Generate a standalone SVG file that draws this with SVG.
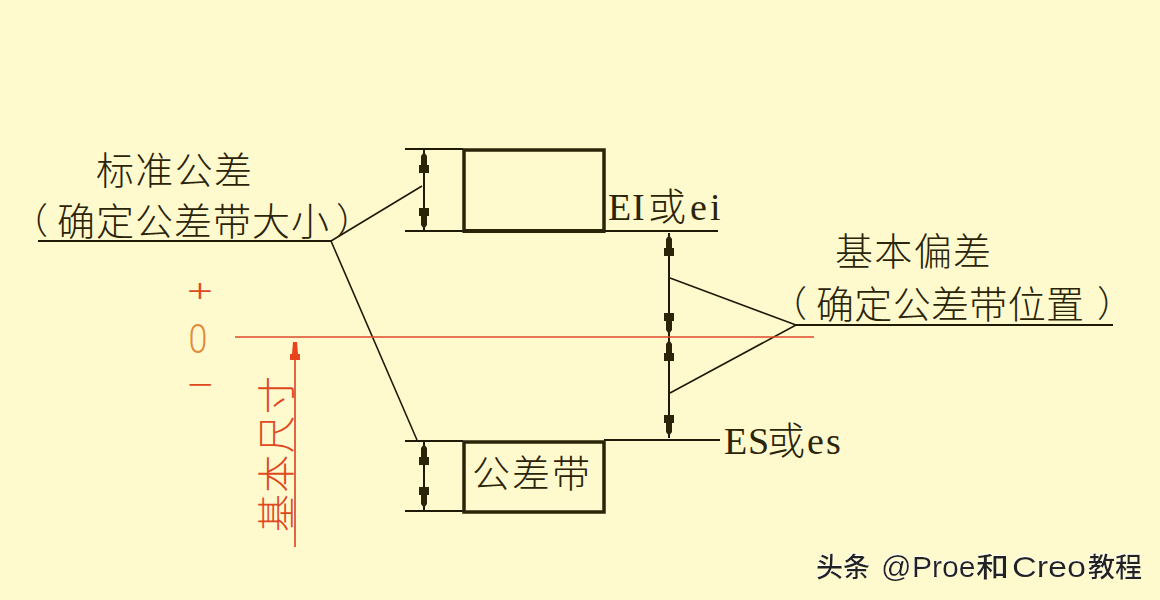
<svg xmlns="http://www.w3.org/2000/svg" width="1160" height="600" viewBox="0 0 1160 600">
<defs>
<style>
.l{stroke:#1f1a08;stroke-width:2;fill:none}
.t{stroke:#1f1a08;stroke-width:1.6;fill:none}
.r{stroke:#dc4a2a;stroke-width:1.7;fill:none}
.a{fill:#2a2408;stroke:none}
.box{fill:none;stroke:#2a2408;stroke-width:3.5}
text{font-family:"Noto Sans CJK SC","Liberation Serif",serif;fill:#2a2408;font-weight:300}
.s{font-family:"Liberation Serif","Noto Sans CJK SC",serif;font-weight:300}
.red{fill:#e0481f}
.wm{font-family:"Liberation Sans","Noto Sans CJK SC",sans-serif;fill:#222;font-weight:500}
</style>
<path id="up" d="M0 2L3 6V15H5V23H-5V15H-3V6Z"/>
<filter id="halo" x="-5%" y="-20%" width="110%" height="140%"><feDropShadow dx="-0.5" dy="-1" stdDeviation="0.4" flood-color="#fff"/></filter>
</defs>
<rect width="1160" height="600" fill="#fffacd"/>
<g id="connectors">
<path class="l" d="M38 241H331"/>
<path class="t" d="M331 241L422 186M331 241L417 440"/>
<path class="l" d="M405 149H463M405 231H463M604 231H718M405 441H463M604 440H720M405 511H463"/>
<path class="l" d="M424 150V230M424 442V510M669 233V438"/>
<path class="t" d="M670 278L796 325M670 393L796 325"/>
<path class="l" d="M796 325H1113"/>
<use href="#up" class="a" transform="translate(424,150)"/>
<use href="#up" class="a" transform="translate(424,231) rotate(180)"/>
<use href="#up" class="a" transform="translate(424,442)"/>
<use href="#up" class="a" transform="translate(424,510) rotate(180)"/>
<use href="#up" class="a" transform="translate(669,233)"/>
<use href="#up" class="a" transform="translate(669,336) rotate(180)"/>
<use href="#up" class="a" transform="translate(669,338)"/>
<use href="#up" class="a" transform="translate(669,438) rotate(180)"/>
<path class="r" d="M235 337H814"/>
<path class="r" d="M295 358V547"/>
<path fill="#e8431f" d="M293 342H297L298 354H300V360H290V354H292Z"/>
</g>
<g id="node-tolerance-top"><rect class="box" x="464" y="150" width="140" height="81"/><path d="M463 229H605V233H463Z" fill="#2a2408"/></g>
<g id="node-tolerance-bottom"><rect class="box" x="464" y="442" width="140" height="70"/>
<text x="531" y="487" font-size="38" text-anchor="middle" textLength="118" lengthAdjust="spacing">公差带</text></g>
<g id="node-standard">
<text x="96" y="184" font-size="38" textLength="156" lengthAdjust="spacing">标准公差</text>
<text x="12" y="234" font-size="36">（</text>
<text x="57" y="235" font-size="38" textLength="272" lengthAdjust="spacing">确定公差带大小</text>
<text x="336" y="234" font-size="36">）</text>
</g>
<g id="node-basic-dev">
<text x="835" y="265" font-size="38" textLength="156" lengthAdjust="spacing">基本偏差</text>
<text x="771" y="317" font-size="36">（</text>
<text x="816" y="318" font-size="38" textLength="268" lengthAdjust="spacing">确定公差带位置</text>
<text x="1097" y="317" font-size="36">）</text>
</g>
<g id="node-ei"><text class="s" x="608 632 648 690 710" y="220" font-size="38">EI或ei</text></g>
<g id="node-es"><text class="s" x="724 748 767 807 826" y="454" font-size="38">ES或es</text></g>
<g id="node-signs">
<text class="s red" transform="translate(200,302) scale(1.35,1)" font-size="34" text-anchor="middle">+</text>
<text transform="translate(198,353) scale(.85,1)" font-size="40" text-anchor="middle" style="font-family:Roboto,'Liberation Sans',sans-serif;font-weight:300;fill:#e08a3c">0</text>
<text class="s red" transform="translate(200,396) scale(1.35,1)" font-size="34" text-anchor="middle">−</text>
</g>
<g id="node-basic-size"><text class="red" transform="translate(290,532) rotate(-90)" font-size="38" textLength="156" lengthAdjust="spacing">基本尺寸</text></g>
<g id="watermark" filter="url(#halo)">
<text class="wm" x="816" y="577" font-size="27">头条</text>
<text class="wm" x="881" y="577" font-size="30">@</text>
<text class="wm" x="912" y="577" font-size="30">Proe</text>
<text class="wm" x="976" y="577" font-size="27" textLength="33" lengthAdjust="spacingAndGlyphs">和</text>
<text class="wm" x="1012" y="577" font-size="30" textLength="74" lengthAdjust="spacingAndGlyphs">Creo</text>
<text class="wm" x="1088" y="577" font-size="27">教程</text>
</g>
</svg>
